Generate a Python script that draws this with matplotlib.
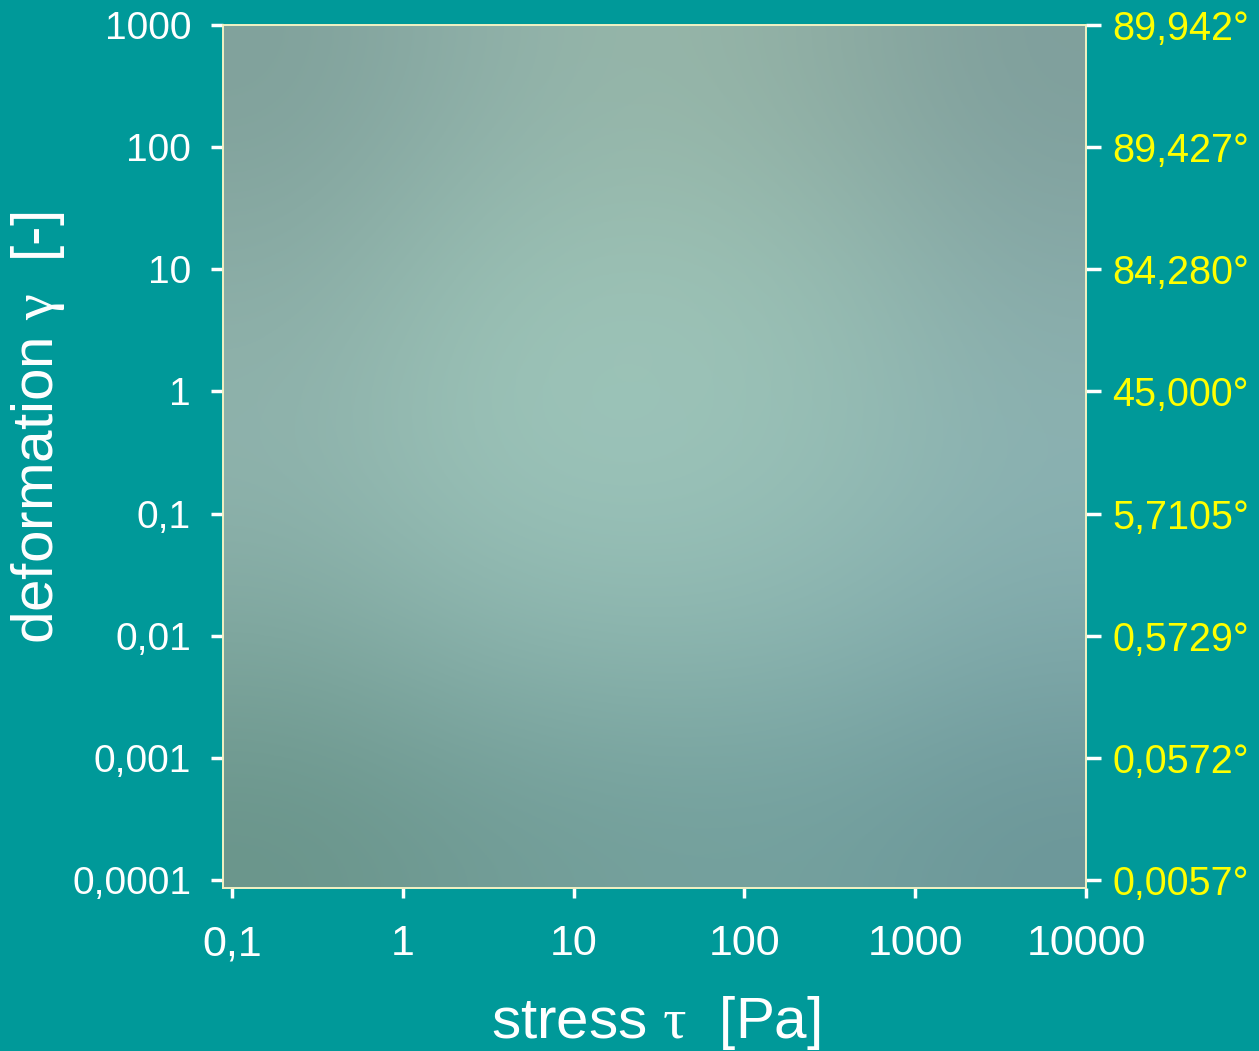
import matplotlib
matplotlib.use("Agg")
import matplotlib.pyplot as plt
import numpy as np
from matplotlib.colors import to_rgb

plt.rcParams["font.family"] = ["Liberation Sans", "DejaVu Sans"]
plt.rcParams["mathtext.fontset"] = "custom"
plt.rcParams["mathtext.rm"] = "Liberation Serif"
plt.rcParams["mathtext.it"] = "Liberation Serif:italic"

# axis ticks and labels
x_ticks = [0.1, 1, 10, 100, 1000, 10000]
x_labels = ["0,1", "1", "10", "100", "1000", "10000"]
y_ticks = [0.0001, 0.001, 0.01, 0.1, 1, 10, 100, 1000]
y_labels = ["0,0001", "0,001", "0,01", "0,1", "1", "10", "100", "1000"]
angle_labels = ["0,0057°", "0,0572°", "0,5729°", "5,7105°",
                "45,000°", "84,280°", "89,427°", "89,942°"]

# background shading of the plot area (top row first)
bg_colors = [
    ["#80a19b", "#8eafa8", "#97b7a9", "#8fada3", "#7f9f9c"],
    ["#8badA6", "#98bfb3", "#9dc3b6", "#97bdb2", "#88aba9"],
    ["#90b4ae", "#9bc3b8", "#9dc5bb", "#97bfb5", "#8cb3b3"],
    ["#80a8a0", "#8bb3ad", "#8fb8b0", "#8bb4b1", "#80aaab"],
    ["#6a958b", "#719c96", "#74a09c", "#73a09e", "#6c9799"],
]

teal = "#009999"
frame = "#f2f2c4"

fig = plt.figure(figsize=(12.59, 10.51), dpi=100, facecolor=teal)
pos = [223 / 1259, 163 / 1051, 863 / 1259, 863 / 1051]

bg = fig.add_axes(pos, zorder=0)
img = np.array([[to_rgb(c) for c in row] for row in bg_colors])
bg.imshow(img, extent=[0, 1, 0, 1], aspect="auto", interpolation="bicubic")
bg.set_xlim(0, 1)
bg.set_ylim(0, 1)
bg.axis("off")

ax = fig.add_axes(pos, zorder=1)
ax.set_facecolor("none")
ax.set_xscale("log")
ax.set_yscale("log")
ax.set_xlim(10 ** -1.053, 10000)
ax.set_ylim(10 ** -4.066, 1000)
ax.set_xticks(x_ticks)
ax.set_xticklabels(x_labels)
ax.set_yticks(y_ticks)
ax.set_yticklabels(y_labels)
ax.minorticks_off()
ax.tick_params(axis="x", colors="white", labelsize=31, length=7, width=2.5,
               pad=19, direction="out")
ax.tick_params(axis="y", colors="white", labelsize=28, length=9, width=2.5,
               pad=14, direction="out")
for s in ax.spines.values():
    s.set_color(frame)
    s.set_linewidth(1.2)

ax2 = ax.twinx()
ax2.set_yscale("log")
ax2.set_ylim(ax.get_ylim())
ax2.set_yticks(y_ticks)
ax2.set_yticklabels(angle_labels)
ax2.minorticks_off()
ax2.tick_params(axis="y", colors="white", labelcolor="yellow", labelsize=28.5,
                length=11, width=2.5, pad=8, direction="out")
for s in ax2.spines.values():
    s.set_color(frame)
    s.set_linewidth(1.2)

fig.text(656 / 1259, 1 - 1023 / 1051, r"stress $\mathrm{\tau}$  [Pa]",
         color="white", fontsize=42, ha="center", va="center")
fig.text(38 / 1259, 1 - 428 / 1051, r"deformation $\mathrm{\gamma}$  [-]",
         color="white", fontsize=42, ha="center", va="center", rotation=90)

fig.savefig("out.png", dpi=100, facecolor=teal)
